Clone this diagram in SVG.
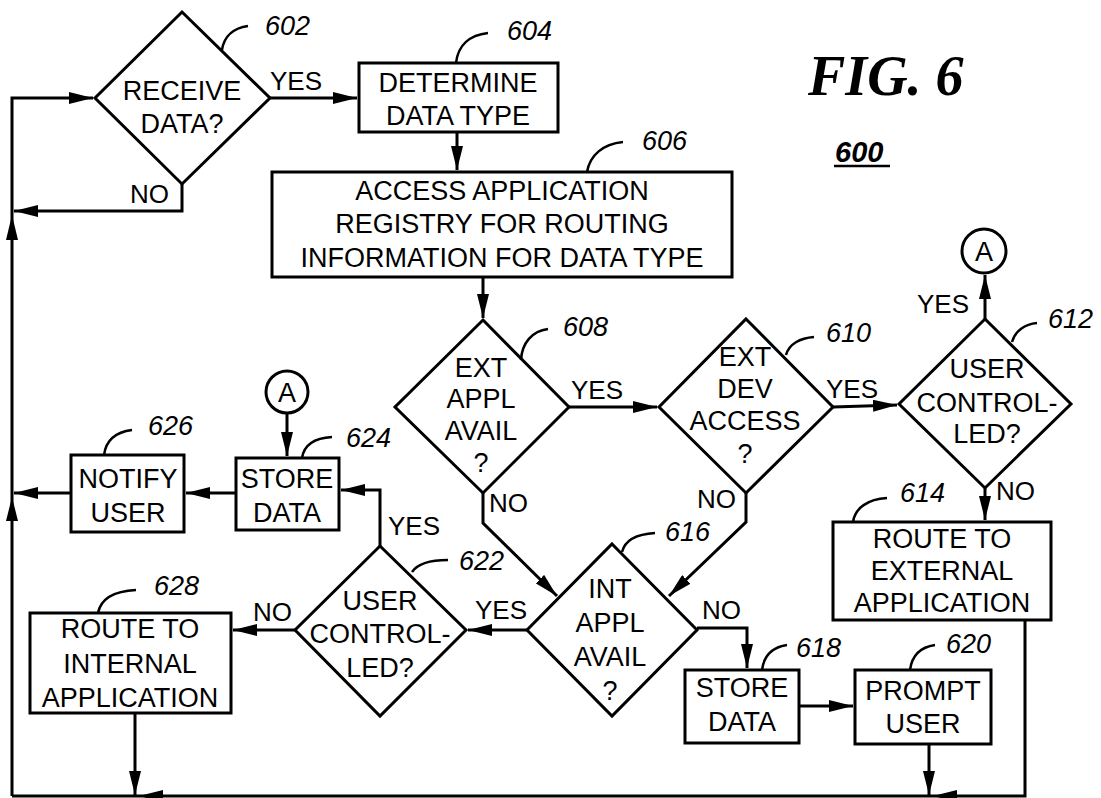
<svg xmlns="http://www.w3.org/2000/svg" width="1101" height="798" viewBox="0 0 1101 798">
<style>
.n{fill:#fff;stroke:#000;stroke-width:3}
.t{font-family:"Liberation Sans",Arial,sans-serif;font-size:27px;fill:#000;text-anchor:middle}
.l{font-family:"Liberation Sans",Arial,sans-serif;font-size:26px;fill:#000}
.r{font-family:"Liberation Sans",Arial,sans-serif;font-size:27px;font-style:italic;fill:#000}
.c{fill:none;stroke:#000;stroke-width:3}
.ld{fill:none;stroke:#000;stroke-width:2.5}
</style>
<defs>
<marker id="ah" markerUnits="userSpaceOnUse" markerWidth="24" markerHeight="12" refX="24" refY="6" orient="auto"><path d="M0,0 L24,6 L0,12 z" fill="#000"/></marker>
</defs>
<rect width="1101" height="798" fill="#fff"/>
<g id="connectors">
<polyline class="c" points="12,796 12,98 93,98" marker-end="url(#ah)"/>
<polygon points="12,215 6,240 18,240" fill="#000"/>
<polygon points="12,497 6,521 18,521" fill="#000"/>
<polyline class="c" points="182,184 182,211 14,211" marker-end="url(#ah)"/>
<line class="c" x1="270" y1="98" x2="357" y2="98" marker-end="url(#ah)"/>
<line class="c" x1="457" y1="132" x2="457" y2="170" marker-end="url(#ah)"/>
<line class="c" x1="483" y1="277" x2="483" y2="318" marker-end="url(#ah)"/>
<line class="c" x1="569" y1="407" x2="657" y2="407" marker-end="url(#ah)"/>
<line class="c" x1="833" y1="407" x2="897" y2="405" marker-end="url(#ah)"/>
<line class="c" x1="985" y1="319" x2="985" y2="275" marker-end="url(#ah)"/>
<line class="c" x1="985" y1="488" x2="985" y2="520" marker-end="url(#ah)"/>
<polyline class="c" points="1025,620 1025,796 12,796"/>
<polyline class="c" points="483,493 483,523 557,596" marker-end="url(#ah)"/>
<polyline class="c" points="746,493 746,522 669,596" marker-end="url(#ah)"/>
<line class="c" x1="527" y1="630" x2="468" y2="630" marker-end="url(#ah)"/>
<polyline class="c" points="697,628 747,628 747,668" marker-end="url(#ah)"/>
<line class="c" x1="799" y1="706" x2="853" y2="706" marker-end="url(#ah)"/>
<line class="c" x1="929" y1="744" x2="929" y2="795" marker-end="url(#ah)"/>
<polygon points="933,796 957,790 957,802" fill="#000"/>
<line class="c" x1="295" y1="630" x2="233" y2="630" marker-end="url(#ah)"/>
<polyline class="c" points="380,546 380,490 341,490" marker-end="url(#ah)"/>
<line class="c" x1="287" y1="413" x2="287" y2="456" marker-end="url(#ah)"/>
<line class="c" x1="236" y1="493" x2="186" y2="493" marker-end="url(#ah)"/>
<line class="c" x1="71" y1="493" x2="14" y2="493" marker-end="url(#ah)"/>
<line class="c" x1="135" y1="713" x2="135" y2="795" marker-end="url(#ah)"/>
<polygon points="139,796 163,790 163,802" fill="#000"/>
<text class="l" x="270" y="90">YES</text>
<text class="l" x="130" y="203">NO</text>
<text class="l" x="571" y="399">YES</text>
<text class="l" x="826" y="398">YES</text>
<text class="l" x="917" y="313">YES</text>
<text class="l" x="996" y="500">NO</text>
<text class="l" x="489" y="512">NO</text>
<text class="l" x="697" y="508">NO</text>
<text class="l" x="702" y="619">NO</text>
<text class="l" x="475" y="619">YES</text>
<text class="l" x="253" y="621">NO</text>
<text class="l" x="388" y="535">YES</text>
</g>
<g id="n602">
<polygon class="n" points="182,12 270,98 182,184 95,98"/>
<text class="t" x="182" y="100">RECEIVE</text>
<text class="t" x="182" y="133">DATA?</text>
<path class="ld" d="M222,50 C224,36 234,28 248,26"/>
<text class="r" x="265" y="35">602</text>
</g>
<g id="n604">
<rect class="n" x="359" y="63" width="199" height="69"/>
<text class="t" x="458" y="92">DETERMINE</text>
<text class="t" x="458" y="125">DATA TYPE</text>
<path class="ld" d="M456,63 C458,45 470,35 488,33"/>
<text class="r" x="507" y="40">604</text>
</g>
<g id="n606">
<rect class="n" x="272" y="172" width="460" height="105"/>
<text class="t" x="502" y="200">ACCESS APPLICATION</text>
<text class="t" x="502" y="233">REGISTRY FOR ROUTING</text>
<text class="t" x="502" y="267">INFORMATION FOR DATA TYPE</text>
<path class="ld" d="M587,172 C590,155 603,144 623,142"/>
<text class="r" x="642" y="150">606</text>
</g>
<g id="n608">
<polygon class="n" points="483,320 569,407 483,493 395,407"/>
<text class="t" x="481" y="377">EXT</text>
<text class="t" x="481" y="408">APPL</text>
<text class="t" x="481" y="440">AVAIL</text>
<text class="t" x="481" y="472">?</text>
<path class="ld" d="M521,360 C522,343 532,331 548,329"/>
<text class="r" x="563" y="336">608</text>
</g>
<g id="n610">
<polygon class="n" points="746,319 833,407 746,493 659,407"/>
<text class="t" x="745" y="366">EXT</text>
<text class="t" x="745" y="398">DEV</text>
<text class="t" x="745" y="430">ACCESS</text>
<text class="t" x="745" y="463">?</text>
<path class="ld" d="M786,355 C789,344 800,338 814,337"/>
<text class="r" x="826" y="342">610</text>
</g>
<g id="n612">
<polygon class="n" points="985,319 1071,404 985,488 899,404"/>
<text class="t" x="987" y="378">USER</text>
<text class="t" x="987" y="412">CONTROL-</text>
<text class="t" x="987" y="443">LED?</text>
<path class="ld" d="M1012,342 C1015,331 1025,324 1037,323"/>
<text class="r" x="1048" y="328">612</text>
</g>
<g id="nA1">
<circle class="n" cx="984" cy="251" r="22"/>
<text class="t" x="984" y="261">A</text>
</g>
<g id="n614">
<rect class="n" x="833" y="522" width="218" height="98"/>
<text class="t" x="942" y="548">ROUTE TO</text>
<text class="t" x="942" y="580">EXTERNAL</text>
<text class="t" x="942" y="612">APPLICATION</text>
<path class="ld" d="M853,522 C855,508 868,499 887,498"/>
<text class="r" x="900" y="502">614</text>
</g>
<g id="n616">
<polygon class="n" points="612,544 697,630 612,716 527,630"/>
<text class="t" x="610" y="598">INT</text>
<text class="t" x="610" y="632">APPL</text>
<text class="t" x="610" y="666">AVAIL</text>
<text class="t" x="610" y="700">?</text>
<path class="ld" d="M622,552 C625,540 638,534 655,533"/>
<text class="r" x="665" y="541">616</text>
</g>
<g id="n618">
<rect class="n" x="685" y="670" width="114" height="73"/>
<text class="t" x="742" y="697">STORE</text>
<text class="t" x="742" y="731">DATA</text>
<path class="ld" d="M762,670 C764,655 773,647 787,645"/>
<text class="r" x="796" y="657">618</text>
</g>
<g id="n620">
<rect class="n" x="855" y="670" width="136" height="74"/>
<text class="t" x="923" y="700">PROMPT</text>
<text class="t" x="923" y="733">USER</text>
<path class="ld" d="M910,670 C912,655 921,647 935,645"/>
<text class="r" x="946" y="653">620</text>
</g>
<g id="n622">
<polygon class="n" points="380,546 466,630 380,716 295,630"/>
<text class="t" x="380" y="610">USER</text>
<text class="t" x="380" y="643">CONTROL-</text>
<text class="t" x="380" y="677">LED?</text>
<path class="ld" d="M412,572 C418,563 430,560 448,560"/>
<text class="r" x="459" y="570">622</text>
</g>
<g id="nA2">
<circle class="n" cx="287" cy="392" r="21"/>
<text class="t" x="287" y="402">A</text>
</g>
<g id="n624">
<rect class="n" x="236" y="458" width="103" height="72"/>
<text class="t" x="287" y="488">STORE</text>
<text class="t" x="287" y="522">DATA</text>
<path class="ld" d="M302,458 C304,445 315,438 332,437"/>
<text class="r" x="346" y="447">624</text>
</g>
<g id="n626">
<rect class="n" x="71" y="455" width="113" height="77"/>
<text class="t" x="128" y="488">NOTIFY</text>
<text class="t" x="128" y="522">USER</text>
<path class="ld" d="M104,455 C106,440 116,432 132,430"/>
<text class="r" x="148" y="435">626</text>
</g>
<g id="n628">
<rect class="n" x="30" y="613" width="201" height="100"/>
<text class="t" x="130" y="638">ROUTE TO</text>
<text class="t" x="130" y="673">INTERNAL</text>
<text class="t" x="130" y="707">APPLICATION</text>
<path class="ld" d="M98,613 C101,598 116,591 136,590"/>
<text class="r" x="154" y="595">628</text>
</g>
<g id="title">
<text x="808" y="95" font-family="'Liberation Serif','Times New Roman',serif" font-size="56" font-weight="bold" font-style="italic">FIG. 6</text>
<text x="835" y="162" font-family="'Liberation Sans',Arial,sans-serif" font-size="29" font-weight="bold" font-style="italic">600</text>
<line x1="834" y1="166" x2="890" y2="166" stroke="#000" stroke-width="2.5"/>
</g>
</svg>
